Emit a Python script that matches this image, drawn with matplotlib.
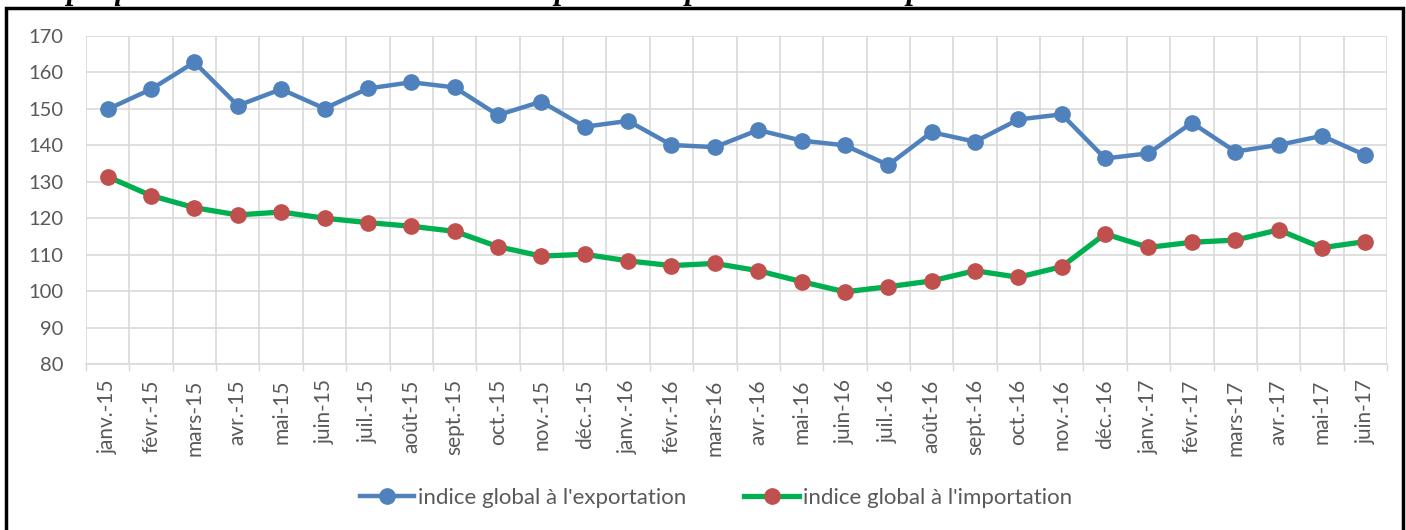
import matplotlib
matplotlib.use("Agg")
import matplotlib.pyplot as plt
from matplotlib.patches import Rectangle
import numpy as np

plt.rcParams['font.family'] = ['Lato', 'DejaVu Sans']

months = ["janv.-15", "févr.-15", "mars-15", "avr.-15", "mai-15", "juin-15", "juil.-15",
          "août-15", "sept.-15", "oct.-15", "nov.-15", "déc.-15",
          "janv.-16", "févr.-16", "mars-16", "avr.-16", "mai-16", "juin-16", "juil.-16",
          "août-16", "sept.-16", "oct.-16", "nov.-16", "déc.-16",
          "janv.-17", "févr.-17", "mars-17", "avr.-17", "mai-17", "juin-17"]

export_idx = [149.9, 155.4, 162.8, 150.9, 155.4, 150.1, 155.6, 157.3, 155.9, 148.3,
              152.0, 145.1, 146.7, 140.1, 139.5, 144.2, 141.3, 140.0, 134.6, 143.6,
              141.0, 147.1, 148.5, 136.4, 137.8, 146.2, 138.3, 140.1, 142.6, 137.3]

import_idx = [131.4, 126.2, 122.9, 120.9, 121.7, 120.0, 118.8, 117.8, 116.4, 112.2,
              109.6, 110.1, 108.3, 107.0, 107.6, 105.6, 102.6, 99.8, 101.2, 102.8,
              105.6, 103.8, 106.7, 115.7, 112.0, 113.4, 114.0, 116.8, 111.9, 113.6]

label_exp = "indice global à l'exportation"
label_imp = "indice global à l'importation"
title = "Graphique n°1 : Evolution des indices des prix à l'importation et à l'exportation"

W, H = 1406, 530
fig = plt.figure(figsize=(W / 100, H / 100), dpi=100)
ax = fig.add_axes([86 / W, 1 - 364 / H, (1387 - 86) / W, (364 - 36) / H])

x = np.arange(len(months))
ax.plot(x, export_idx, color='#4f81bd', lw=3.2, marker='o', ms=11,
        mfc='#4f81bd', mec='#4f81bd', label=label_exp, zorder=3, solid_joinstyle='round')
ax.plot(x, import_idx, color='#00b050', lw=3.8, marker='o', ms=11,
        mfc='#c0504d', mec='#c0504d', label=label_imp, zorder=3, solid_joinstyle='round')

ax.set_xlim(-0.5, len(months) - 0.5)
ax.set_ylim(80, 170)
ax.set_yticks(np.arange(80, 171, 10))
ax.set_xticks(x)
ax.set_xticklabels(months, rotation=90, fontsize=15, color='#595959')
ax.set_xticks(np.arange(-0.5, len(months), 1), minor=True)
ax.tick_params(axis='y', labelsize=14.5, labelcolor='#595959', length=0, pad=16)
ax.tick_params(axis='x', which='major', length=0, pad=11)
ax.tick_params(axis='x', which='minor', length=5, color='#d9d9d9', width=1)
ax.grid(axis='y', which='major', color='#d9d9d9', lw=1.2)
ax.grid(axis='x', which='minor', color='#d9d9d9', lw=1.2)
for s in ['top', 'left', 'right']:
    ax.spines[s].set_visible(False)
ax.spines['bottom'].set_color('#d9d9d9')
ax.spines['bottom'].set_linewidth(1.2)
ax.spines['bottom'].set_linestyle((0, (2, 1)))

fig.legend(loc='center', bbox_to_anchor=(716 / W, 1 - 498 / H), ncol=2, frameon=False,
           fontsize=16, handlelength=2.45, handletextpad=0.2, columnspacing=2.6,
           labelcolor='#595959')

# outer frame
fig.patches.append(Rectangle((6 / W, -0.05), (1403 - 6) / W, 1.05 - 8 / H,
                             transform=fig.transFigure, fill=False, ec='black', lw=2.5,
                             zorder=10))

# title (cropped at the top of the image, only descenders visible)
fig.text(18 / W, 1 + 0.5 / H, title, fontsize=22, fontweight='bold', fontstyle='italic',
         va='baseline', ha='left', family=['Liberation Serif', 'DejaVu Serif'])

fig.savefig('out.png', dpi=100)
